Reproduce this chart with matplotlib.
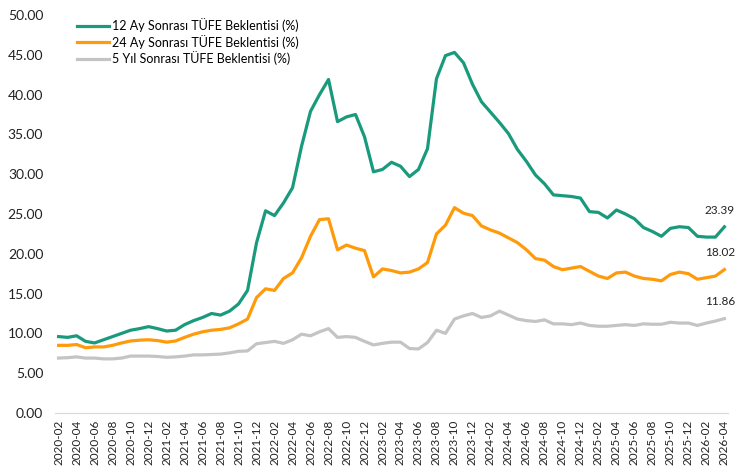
import matplotlib
matplotlib.use('Agg')
import matplotlib.pyplot as plt
import pandas as pd

# Monthly survey dates, 2020-02 .. 2026-04
months = pd.date_range('2020-02-01', '2026-04-01', freq='MS').strftime('%Y-%m').tolist()

exp_12m = [9.6, 9.5, 9.7, 9.0, 8.8, 9.2, 9.6, 10.0, 10.4, 10.6,
           10.85, 10.6, 10.3, 10.4, 11.1, 11.6, 12.0, 12.5, 12.3, 12.8,
           13.7, 15.4, 21.4, 25.4, 24.8, 26.4, 28.3, 33.5, 37.9, 40.0,
           41.9, 36.6, 37.2, 37.5, 34.7, 30.3, 30.6, 31.5, 31.0, 29.7,
           30.6, 33.2, 42.0, 44.9, 45.3, 44.0, 41.3, 39.1, 37.8, 36.5,
           35.1, 33.1, 31.6, 29.9, 28.8, 27.4, 27.3, 27.2, 27.0, 25.3,
           25.2, 24.5, 25.5, 25.0, 24.4, 23.3, 22.8, 22.2, 23.2, 23.4,
           23.3, 22.2, 22.1, 22.1, 23.39]

exp_24m = [8.5, 8.5, 8.6, 8.2, 8.3, 8.3, 8.5, 8.8, 9.05, 9.15,
           9.2, 9.1, 8.9, 9.05, 9.5, 9.9, 10.2, 10.4, 10.5, 10.7,
           11.2, 11.8, 14.5, 15.6, 15.4, 16.9, 17.6, 19.5, 22.2, 24.3,
           24.4, 20.5, 21.1, 20.7, 20.4, 17.1, 18.1, 17.9, 17.6, 17.7,
           18.1, 18.9, 22.5, 23.6, 25.8, 25.1, 24.8, 23.5, 23.0, 22.6,
           22.0, 21.4, 20.5, 19.4, 19.2, 18.4, 18.0, 18.2, 18.4, 17.8,
           17.2, 16.9, 17.6, 17.7, 17.2, 16.9, 16.8, 16.6, 17.4, 17.7,
           17.5, 16.8, 17.0, 17.2, 18.02]

exp_5y = [6.9, 6.95, 7.05, 6.9, 6.9, 6.8, 6.8, 6.9, 7.15, 7.15,
          7.15, 7.1, 7.0, 7.05, 7.15, 7.3, 7.3, 7.35, 7.4, 7.55,
          7.75, 7.8, 8.7, 8.85, 9.0, 8.75, 9.2, 9.9, 9.7, 10.2,
          10.6, 9.5, 9.6, 9.5, 9.0, 8.55, 8.75, 8.9, 8.9, 8.1,
          8.05, 8.85, 10.4, 10.0, 11.8, 12.2, 12.5, 12.0, 12.2, 12.8,
          12.3, 11.8, 11.6, 11.5, 11.7, 11.2, 11.2, 11.1, 11.3, 11.0,
          10.9, 10.9, 11.0, 11.1, 11.0, 11.2, 11.15, 11.15, 11.4, 11.3,
          11.3, 11.0, 11.3, 11.55, 11.86]

labels = ['12 Ay Sonrası TÜFE Beklentisi (%)',
          '24 Ay Sonrası TÜFE Beklentisi (%)',
          '5 Yıl Sonrası TÜFE Beklentisi (%)']
colors = ['#1a9a7c', '#ff9a0a', '#c4c4c4']

plt.rcParams['font.family'] = ['Lato', 'DejaVu Sans']

fig = plt.figure(figsize=(7.35, 4.68), dpi=100)
ax = fig.add_axes([55 / 735, 1 - 413 / 468, 673 / 735, 398 / 468])

x = list(range(len(months)))
for series, label, color in zip([exp_12m, exp_24m, exp_5y], labels, colors):
    ax.plot(x, series, color=color, linewidth=2.3, label=label, solid_joinstyle='round')
    # last value written just above the end of each line
    ax.annotate(f'{series[-1]:.2f}', xy=(x[-1], series[-1]), xytext=(-14, 12),
                textcoords='offset points', ha='left', va='center',
                fontsize=8.5, color='#222222', annotation_clip=False)

ax.set_ylim(0, 50)
ax.set_xlim(-0.4, len(months) - 0.6)
ax.set_yticks(range(0, 51, 5))
ax.set_yticklabels([f'{v:.2f}' for v in range(0, 51, 5)], fontsize=10, color='#222222')
ax.set_xticks(x[::2])
ax.set_xticklabels(months[::2], rotation=90, fontsize=8.5, color='#222222')
ax.tick_params(axis='both', length=0)
ax.tick_params(axis='y', pad=8.5)
ax.tick_params(axis='x', pad=5)

for side in ['top', 'right', 'left']:
    ax.spines[side].set_visible(False)
ax.spines['bottom'].set_color('#d9d9d9')

ax.legend(loc='upper left', bbox_to_anchor=(0.025, 1.005), frameon=False,
          fontsize=9, handlelength=2.6, handletextpad=0.2, labelspacing=0.22,
          borderaxespad=0)

fig.savefig('out.png', dpi=100)
plt.close(fig)
